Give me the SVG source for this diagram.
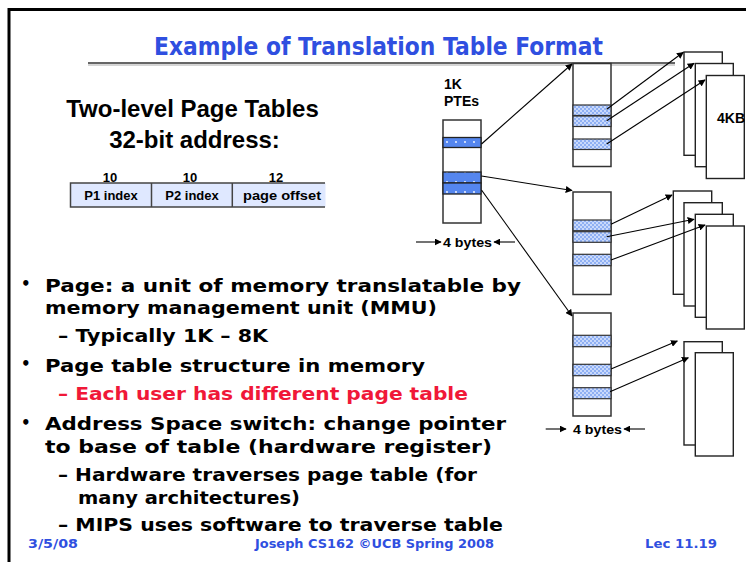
<svg xmlns="http://www.w3.org/2000/svg" width="746" height="562" viewBox="0 0 746 562">
<style>
.comic{font-family:"DejaVu Sans","Liberation Sans",sans-serif;font-weight:bold;}
.body{font-size:18.5px;fill:#000;}
.red{fill:#f01838;}
.blue{fill:#2f4fe0;}
.arial{font-family:"Liberation Sans",Arial,sans-serif;font-weight:bold;fill:#000;}
.tbl{fill:#fff;stroke:#333;stroke-width:1.5;}
.pg{fill:#fff;stroke:#222;stroke-width:1.4;}
.b1{fill:url(#dots);stroke:#222;stroke-width:1.3;}
.b2{fill:url(#check);stroke:#333;stroke-width:1.2;}
.conn line{stroke:#000;stroke-width:1.1;marker-end:url(#ah);}
</style>
<defs>
<marker id="ah" viewBox="0 0 10 10" refX="9" refY="5" markerWidth="7" markerHeight="7" markerUnits="userSpaceOnUse" orient="auto">
<path d="M0,0 L10,5 L0,10 z" fill="#000"/>
</marker>
<pattern id="dots" width="9" height="10" patternUnits="userSpaceOnUse" x="443" y="137">
<rect width="9" height="10" fill="#5586ee"/>
<circle cx="4" cy="5" r="0.9" fill="#fff"/>
</pattern>
<pattern id="check" width="4" height="4" patternUnits="userSpaceOnUse">
<rect width="4" height="4" fill="#c9d9fb"/>
<rect width="2" height="2" fill="#8fb0f3"/>
<rect x="2" y="2" width="2" height="2" fill="#8fb0f3"/>
</pattern>
</defs>
<rect width="746" height="562" fill="#fff"/>
<rect x="9" y="9.5" width="800" height="600" fill="none" stroke="#000" stroke-width="3"/>

<g id="title">
<text class="comic blue" x="154" y="55" font-size="24" textLength="449" lengthAdjust="spacingAndGlyphs">Example of Translation Table Format</text>
<line x1="88" y1="63" x2="675" y2="63" stroke="#666" stroke-width="2"/>
<line x1="88" y1="65" x2="675" y2="65" stroke="#aaa" stroke-width="1"/>
</g>

<g id="heading">
<text class="arial" x="192.5" y="117" font-size="24" text-anchor="middle">Two-level Page Tables</text>
<text class="arial" x="194.5" y="148" font-size="24" text-anchor="middle">32-bit address:</text>
</g>

<g id="address">
<rect x="70.5" y="183" width="255" height="24" fill="#dfe8ff"/>
<path d="M325,183 H70.5 V207 H325 M151.5,183 V207 M232.3,183 V207" fill="none" stroke="#444" stroke-width="1.5"/>
<text class="arial" font-size="13" text-anchor="middle" x="110" y="181.5">10</text>
<text class="arial" font-size="13" text-anchor="middle" x="190" y="181.5">10</text>
<text class="arial" font-size="13" text-anchor="middle" x="276" y="181.5">12</text>
<text class="arial" font-size="13" text-anchor="middle" x="111" y="200">P1 index</text>
<text class="arial" font-size="13" text-anchor="middle" x="192" y="200">P2 index</text>
<text class="arial" font-size="13" x="243" y="200" textLength="78" lengthAdjust="spacingAndGlyphs">page offset</text>
</g>

<g id="l1-table">
<text class="arial" font-size="14" x="444" y="88.5">1K</text>
<text class="arial" font-size="14" x="444" y="106">PTEs</text>
<rect class="tbl" x="443" y="120" width="38" height="103"/>
<rect class="b1" x="443" y="137.5" width="38" height="10"/>
<rect class="b1" x="443" y="172" width="38" height="11"/>
<rect class="b1" x="443" y="183" width="38" height="11"/>
</g>

<g id="l1-width">
<text class="arial" font-size="13.5" x="443" y="246.5" textLength="49" lengthAdjust="spacingAndGlyphs">4 bytes</text>
</g>

<g id="l2-table-a">
<rect class="tbl" x="573" y="63.5" width="38" height="103"/>
<rect class="b2" x="573" y="105" width="38" height="10.5"/>
<rect class="b2" x="573" y="116" width="38" height="10.5"/>
<rect class="b2" x="573" y="139" width="38" height="10.5"/>
</g>

<g id="l2-table-b">
<rect class="tbl" x="573" y="192" width="38" height="102.5"/>
<rect class="b2" x="573" y="220" width="38" height="10.7"/>
<rect class="b2" x="573" y="231.7" width="38" height="10.6"/>
<rect class="b2" x="573" y="254.3" width="38" height="11.4"/>
</g>

<g id="l2-table-c">
<rect class="tbl" x="573" y="313" width="38" height="103"/>
<rect class="b2" x="573" y="335.3" width="38" height="11.4"/>
<rect class="b2" x="573" y="364.3" width="38" height="11.4"/>
<rect class="b2" x="573" y="387.7" width="38" height="11"/>
</g>

<g id="l2-width">
<text class="arial" font-size="13.5" x="573" y="433.5" textLength="49" lengthAdjust="spacingAndGlyphs">4 bytes</text>
</g>

<g id="pages-a">
<rect class="pg" x="684" y="52" width="38.3" height="103.3"/>
<rect class="pg" x="695.3" y="63.5" width="38" height="103.2"/>
<rect class="pg" x="706.3" y="75.5" width="38" height="103"/>
<text class="arial" font-size="14" x="717" y="123">4KB</text>
</g>

<g id="pages-b">
<rect class="pg" x="673.3" y="191" width="38.4" height="103.3"/>
<rect class="pg" x="684" y="202.7" width="38.3" height="103.3"/>
<rect class="pg" x="695.3" y="214.3" width="38" height="103"/>
<rect class="pg" x="706.3" y="226" width="38" height="103"/>
</g>

<g id="pages-c">
<rect class="pg" x="684" y="341.7" width="38.3" height="103.3"/>
<rect class="pg" x="695.3" y="352.7" width="38" height="103.3"/>
</g>

<g id="connectors" class="conn">
<line x1="416" y1="242" x2="441" y2="242"/>
<line x1="515" y1="242" x2="494" y2="242"/>
<line x1="545.7" y1="429" x2="566" y2="429"/>
<line x1="645" y1="429" x2="624" y2="429"/>
<line x1="481.5" y1="144" x2="572" y2="64"/>
<line x1="481.5" y1="176" x2="572" y2="190.5"/>
<line x1="481.5" y1="190" x2="572" y2="316"/>
<line x1="606.7" y1="109.3" x2="683.3" y2="52.3"/>
<line x1="606.7" y1="120.7" x2="694" y2="63.3"/>
<line x1="606.7" y1="144" x2="705" y2="80"/>
<line x1="611" y1="224.3" x2="672" y2="195"/>
<line x1="606.7" y1="236.7" x2="694" y2="219.3"/>
<line x1="611" y1="260" x2="705" y2="225"/>
<line x1="611" y1="369" x2="677.3" y2="341"/>
<line x1="610" y1="391.7" x2="688.3" y2="357.7"/>
</g>

<g id="bullets" class="comic body">
<text x="21" y="289" font-size="15">•</text>
<text x="45" y="291.5" textLength="476" lengthAdjust="spacingAndGlyphs">Page: a unit of memory translatable by</text>
<text x="45" y="313.5" textLength="392" lengthAdjust="spacingAndGlyphs">memory management unit (MMU)</text>
<text x="58" y="341.5" textLength="210" lengthAdjust="spacingAndGlyphs">– Typically 1K – 8K</text>
<text x="21" y="369" font-size="15">•</text>
<text x="45" y="371.5" textLength="380" lengthAdjust="spacingAndGlyphs">Page table structure in memory</text>
<text class="red" x="58" y="400" textLength="410" lengthAdjust="spacingAndGlyphs">– Each user has different page table</text>
<text x="21" y="427.5" font-size="15">•</text>
<text x="45" y="430" textLength="461" lengthAdjust="spacingAndGlyphs">Address Space switch: change pointer</text>
<text x="45" y="453" textLength="447" lengthAdjust="spacingAndGlyphs">to base of table (hardware register)</text>
<text x="58" y="481" textLength="419" lengthAdjust="spacingAndGlyphs">– Hardware traverses page table (for</text>
<text x="78" y="503.5" textLength="222" lengthAdjust="spacingAndGlyphs">many architectures)</text>
<text x="58" y="530.5" textLength="445" lengthAdjust="spacingAndGlyphs">– MIPS uses software to traverse table</text>
</g>

<g id="footer" class="comic blue" font-size="13">
<text x="28" y="548" textLength="50" lengthAdjust="spacingAndGlyphs">3/5/08</text>
<text x="255" y="548" textLength="239" lengthAdjust="spacingAndGlyphs">Joseph CS162 ©UCB Spring 2008</text>
<text x="645" y="548" textLength="72" lengthAdjust="spacingAndGlyphs">Lec 11.19</text>
</g>
</svg>
